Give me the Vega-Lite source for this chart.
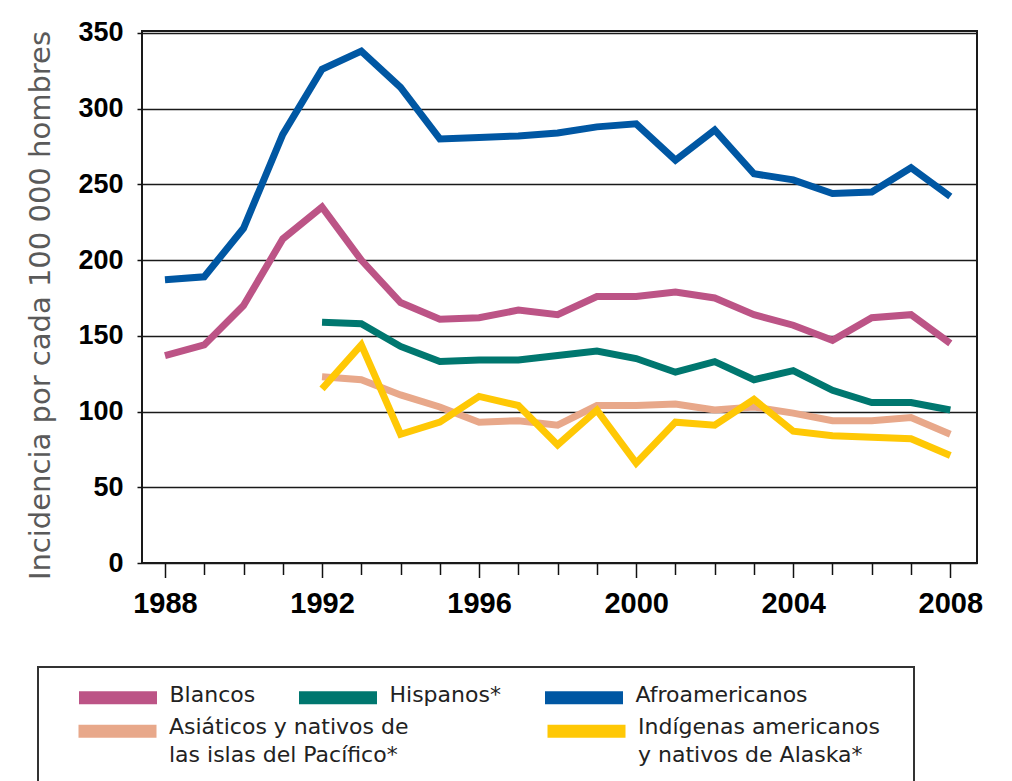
{
  "$schema": "https://vega.github.io/schema/vega-lite/v6.json",
  "width": 835,
  "height": 532,
  "autosize": {"type": "none"},
  "padding": {"left": 142, "top": 31, "right": 35, "bottom": 218},
  "background": "white",
  "config": {
    "view": {"stroke": "#1a1a1a", "strokeWidth": 2}
  },
  "datasets": {
    "d": [
      {"anio": 1988, "grupo": "Afroamericanos", "valor": 187},
      {"anio": 1989, "grupo": "Afroamericanos", "valor": 189},
      {"anio": 1990, "grupo": "Afroamericanos", "valor": 221},
      {"anio": 1991, "grupo": "Afroamericanos", "valor": 283},
      {"anio": 1992, "grupo": "Afroamericanos", "valor": 326},
      {"anio": 1993, "grupo": "Afroamericanos", "valor": 338},
      {"anio": 1994, "grupo": "Afroamericanos", "valor": 314},
      {"anio": 1995, "grupo": "Afroamericanos", "valor": 280},
      {"anio": 1996, "grupo": "Afroamericanos", "valor": 281},
      {"anio": 1997, "grupo": "Afroamericanos", "valor": 282},
      {"anio": 1998, "grupo": "Afroamericanos", "valor": 284},
      {"anio": 1999, "grupo": "Afroamericanos", "valor": 288},
      {"anio": 2000, "grupo": "Afroamericanos", "valor": 290},
      {"anio": 2001, "grupo": "Afroamericanos", "valor": 266},
      {"anio": 2002, "grupo": "Afroamericanos", "valor": 286},
      {"anio": 2003, "grupo": "Afroamericanos", "valor": 257},
      {"anio": 2004, "grupo": "Afroamericanos", "valor": 253},
      {"anio": 2005, "grupo": "Afroamericanos", "valor": 244},
      {"anio": 2006, "grupo": "Afroamericanos", "valor": 245},
      {"anio": 2007, "grupo": "Afroamericanos", "valor": 261},
      {"anio": 2008, "grupo": "Afroamericanos", "valor": 242},
      {"anio": 1988, "grupo": "Blancos", "valor": 137},
      {"anio": 1989, "grupo": "Blancos", "valor": 144},
      {"anio": 1990, "grupo": "Blancos", "valor": 170},
      {"anio": 1991, "grupo": "Blancos", "valor": 214},
      {"anio": 1992, "grupo": "Blancos", "valor": 235},
      {"anio": 1993, "grupo": "Blancos", "valor": 200},
      {"anio": 1994, "grupo": "Blancos", "valor": 172},
      {"anio": 1995, "grupo": "Blancos", "valor": 161},
      {"anio": 1996, "grupo": "Blancos", "valor": 162},
      {"anio": 1997, "grupo": "Blancos", "valor": 167},
      {"anio": 1998, "grupo": "Blancos", "valor": 164},
      {"anio": 1999, "grupo": "Blancos", "valor": 176},
      {"anio": 2000, "grupo": "Blancos", "valor": 176},
      {"anio": 2001, "grupo": "Blancos", "valor": 179},
      {"anio": 2002, "grupo": "Blancos", "valor": 175},
      {"anio": 2003, "grupo": "Blancos", "valor": 164},
      {"anio": 2004, "grupo": "Blancos", "valor": 157},
      {"anio": 2005, "grupo": "Blancos", "valor": 147},
      {"anio": 2006, "grupo": "Blancos", "valor": 162},
      {"anio": 2007, "grupo": "Blancos", "valor": 164},
      {"anio": 2008, "grupo": "Blancos", "valor": 145},
      {"anio": 1992, "grupo": "Hispanos*", "valor": 159},
      {"anio": 1993, "grupo": "Hispanos*", "valor": 158},
      {"anio": 1994, "grupo": "Hispanos*", "valor": 143},
      {"anio": 1995, "grupo": "Hispanos*", "valor": 133},
      {"anio": 1996, "grupo": "Hispanos*", "valor": 134},
      {"anio": 1997, "grupo": "Hispanos*", "valor": 134},
      {"anio": 1998, "grupo": "Hispanos*", "valor": 137},
      {"anio": 1999, "grupo": "Hispanos*", "valor": 140},
      {"anio": 2000, "grupo": "Hispanos*", "valor": 135},
      {"anio": 2001, "grupo": "Hispanos*", "valor": 126},
      {"anio": 2002, "grupo": "Hispanos*", "valor": 133},
      {"anio": 2003, "grupo": "Hispanos*", "valor": 121},
      {"anio": 2004, "grupo": "Hispanos*", "valor": 127},
      {"anio": 2005, "grupo": "Hispanos*", "valor": 114},
      {"anio": 2006, "grupo": "Hispanos*", "valor": 106},
      {"anio": 2007, "grupo": "Hispanos*", "valor": 106},
      {"anio": 2008, "grupo": "Hispanos*", "valor": 101},
      {"anio": 1992, "grupo": "Asiáticos y nativos de las islas del Pacífico*", "valor": 123},
      {"anio": 1993, "grupo": "Asiáticos y nativos de las islas del Pacífico*", "valor": 121},
      {"anio": 1994, "grupo": "Asiáticos y nativos de las islas del Pacífico*", "valor": 111},
      {"anio": 1995, "grupo": "Asiáticos y nativos de las islas del Pacífico*", "valor": 103},
      {"anio": 1996, "grupo": "Asiáticos y nativos de las islas del Pacífico*", "valor": 93},
      {"anio": 1997, "grupo": "Asiáticos y nativos de las islas del Pacífico*", "valor": 94},
      {"anio": 1998, "grupo": "Asiáticos y nativos de las islas del Pacífico*", "valor": 91},
      {"anio": 1999, "grupo": "Asiáticos y nativos de las islas del Pacífico*", "valor": 104},
      {"anio": 2000, "grupo": "Asiáticos y nativos de las islas del Pacífico*", "valor": 104},
      {"anio": 2001, "grupo": "Asiáticos y nativos de las islas del Pacífico*", "valor": 105},
      {"anio": 2002, "grupo": "Asiáticos y nativos de las islas del Pacífico*", "valor": 101},
      {"anio": 2003, "grupo": "Asiáticos y nativos de las islas del Pacífico*", "valor": 103},
      {"anio": 2004, "grupo": "Asiáticos y nativos de las islas del Pacífico*", "valor": 99},
      {"anio": 2005, "grupo": "Asiáticos y nativos de las islas del Pacífico*", "valor": 94},
      {"anio": 2006, "grupo": "Asiáticos y nativos de las islas del Pacífico*", "valor": 94},
      {"anio": 2007, "grupo": "Asiáticos y nativos de las islas del Pacífico*", "valor": 96},
      {"anio": 2008, "grupo": "Asiáticos y nativos de las islas del Pacífico*", "valor": 85},
      {"anio": 1992, "grupo": "Indígenas americanos y nativos de Alaska*", "valor": 115},
      {"anio": 1993, "grupo": "Indígenas americanos y nativos de Alaska*", "valor": 144},
      {"anio": 1994, "grupo": "Indígenas americanos y nativos de Alaska*", "valor": 85},
      {"anio": 1995, "grupo": "Indígenas americanos y nativos de Alaska*", "valor": 93},
      {"anio": 1996, "grupo": "Indígenas americanos y nativos de Alaska*", "valor": 110},
      {"anio": 1997, "grupo": "Indígenas americanos y nativos de Alaska*", "valor": 104},
      {"anio": 1998, "grupo": "Indígenas americanos y nativos de Alaska*", "valor": 78},
      {"anio": 1999, "grupo": "Indígenas americanos y nativos de Alaska*", "valor": 101},
      {"anio": 2000, "grupo": "Indígenas americanos y nativos de Alaska*", "valor": 66},
      {"anio": 2001, "grupo": "Indígenas americanos y nativos de Alaska*", "valor": 93},
      {"anio": 2002, "grupo": "Indígenas americanos y nativos de Alaska*", "valor": 91},
      {"anio": 2003, "grupo": "Indígenas americanos y nativos de Alaska*", "valor": 108},
      {"anio": 2004, "grupo": "Indígenas americanos y nativos de Alaska*", "valor": 87},
      {"anio": 2005, "grupo": "Indígenas americanos y nativos de Alaska*", "valor": 84},
      {"anio": 2006, "grupo": "Indígenas americanos y nativos de Alaska*", "valor": 83},
      {"anio": 2007, "grupo": "Indígenas americanos y nativos de Alaska*", "valor": 82},
      {"anio": 2008, "grupo": "Indígenas americanos y nativos de Alaska*", "valor": 71}
    ]
  },
  "data": {"name": "d"},
  "encoding": {
    "x": {
      "field": "anio",
      "type": "quantitative",
      "scale": {"domain": [1987.415, 2008.68], "nice": false, "zero": false},
      "axis": {
        "values": [1988, 1989, 1990, 1991, 1992, 1993, 1994, 1995, 1996, 1997, 1998, 1999, 2000, 2001, 2002, 2003, 2004, 2005, 2006, 2007, 2008],
        "tickSize": {"condition": {"test": "datum.value % 4 === 0", "value": 14.5}, "value": 11.5},
        "labelExpr": "datum.value % 4 === 0 ? datum.label : ''",
        "format": "d",
        "labelFont": "Liberation Sans",
        "labelFontWeight": "bold",
        "labelFontSize": 29,
        "labelColor": "#000000",
        "labelPadding": 12,
        "labelOverlap": false,
        "labelFlush": false,
        "labelBound": false,
        "title": null,
        "grid": false,
        "domain": false,
        "tickColor": "#111111",
        "tickWidth": 1.5
      }
    },
    "y": {
      "field": "valor",
      "type": "quantitative",
      "scale": {"domain": [0, 351.3], "nice": false},
      "axis": {
        "values": [0, 50, 100, 150, 200, 250, 300, 350],
        "grid": true,
        "gridColor": "#1a1a1a",
        "gridWidth": 1.5,
        "tickSize": 5,
        "tickColor": "#111111",
        "tickWidth": 1.5,
        "domain": false,
        "labelFont": "Liberation Sans",
        "labelFontWeight": "bold",
        "labelFontSize": 27,
        "labelColor": "#000000",
        "labelPadding": 14,
        "labelFlush": false,
        "title": "Incidencia por cada 100 000 hombres",
        "titleFont": "DejaVu Sans",
        "titleFontSize": 29,
        "titleFontWeight": "normal",
        "titleColor": "#5a5a5a",
        "titlePadding": 22,
        "titleY": 274
      }
    }
  },
  "layer": [
    {
      "transform": [{"filter": {"field": "grupo", "oneOf": ["Blancos", "Hispanos*", "Afroamericanos"]}}],
      "mark": {"type": "line", "strokeWidth": 7},
      "encoding": {
        "color": {
          "field": "grupo",
          "type": "nominal",
          "scale": {"domain": ["Blancos", "Hispanos*", "Afroamericanos"], "range": ["#bc5486", "#00776f", "#0057a3"]},
          "legend": {
            "title": null,
            "orient": "none",
            "legendX": -69.5,
            "legendY": 621,
            "direction": "horizontal",
            "columns": 3,
            "symbolType": "stroke",
            "symbolSize": 6084,
            "symbolStrokeWidth": 13,
            "labelFont": "DejaVu Sans",
            "labelFontSize": 22,
            "labelColor": "#222222",
            "labelOffset": 6,
            "labelLimit": 500,
            "columnPadding": 17,
            "padding": 0,
            "encode": {
              "labels": {"update": {"dy": {"value": -3}}}
            }
          }
        }
      }
    },
    {
      "transform": [{"filter": {"field": "grupo", "oneOf": ["Asiáticos y nativos de las islas del Pacífico*", "Indígenas americanos y nativos de Alaska*"]}}],
      "mark": {"type": "line", "strokeWidth": 7},
      "encoding": {
        "color": {
          "field": "grupo",
          "type": "nominal",
          "scale": {"domain": ["Asiáticos y nativos de las islas del Pacífico*", "Indígenas americanos y nativos de Alaska*"], "range": ["#e8a88a", "#ffc805"]},
          "legend": {
            "title": " ",
            "titleFontSize": 2,
            "titlePadding": 15,
            "orient": "none",
            "legendX": -104,
            "legendY": 636,
            "direction": "horizontal",
            "columns": 2,
            "symbolType": "stroke",
            "symbolSize": 6084,
            "symbolStrokeWidth": 13,
            "labelFont": "DejaVu Sans",
            "labelFontSize": 22,
            "labelColor": "#222222",
            "labelOffset": 6,
            "labelLimit": 500,
            "columnPadding": 112,
            "padding": 34,
            "strokeColor": "#333333",
            "labelExpr": "datum.label == 'Asiáticos y nativos de las islas del Pacífico*' ? ['Asiáticos y nativos de', 'las islas del Pacífico*'] : ['Indígenas americanos', 'y nativos de Alaska*']",
            "encode": {
              "legend": {"update": {"strokeWidth": {"value": 2}}},
              "labels": {"update": {"y": {"value": 13}, "dy": {"value": -4}, "lineHeight": {"value": 27.5}}},
              "symbols": {"update": {"y": {"value": 13}, "stroke": {"signal": "datum.value == 'Indígenas americanos y nativos de Alaska*' ? '#f6da6a' : '#e8a88a'"}}}
            }
          }
        }
      }
    }
  ],
  "resolve": {"scale": {"color": "independent"}}
}
